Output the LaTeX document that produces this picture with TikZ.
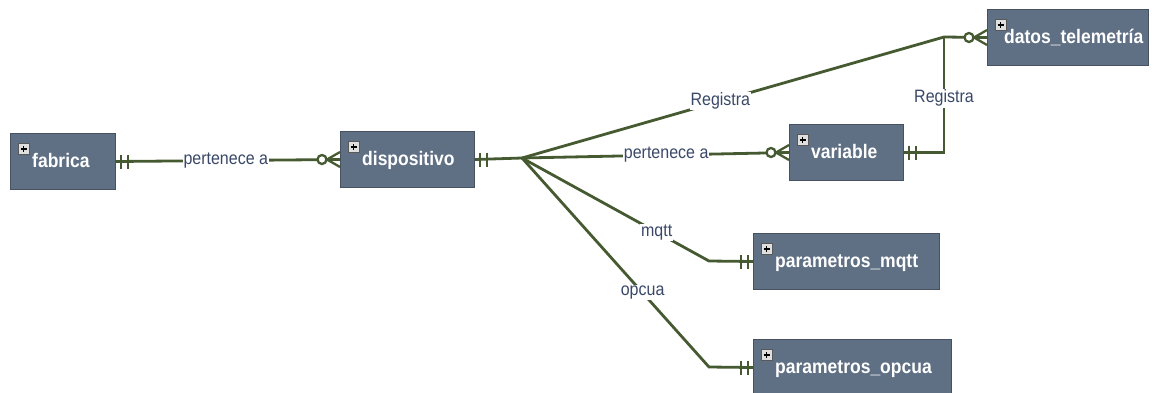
\documentclass[tikz,border=0pt]{standalone}
\usepackage{fontspec}
\setmainfont{Liberation Sans}
\definecolor{boxfill}{HTML}{5F6F84}
\definecolor{boxedge}{HTML}{47515F}
\definecolor{relgreen}{HTML}{465A32}
\definecolor{lblblue}{HTML}{3A4868}
\newcommand{\tallish}[1]{\scalebox{1}[1.12]{#1}}
\tikzset{
  bars/.pic={\draw[relgreen, line width=2.3pt] (5,-7) -- (5,7) (12,-7) -- (12,7);},
  crow/.pic={\draw[relgreen, line width=2.3pt] (-13,0) -- (0,-7.5) (-13,0) -- (0,0) (-13,0) -- (0,7.5);
             \draw[relgreen, line width=2.3pt, fill=white] (-18,0) circle (4.5);},
  plusicon/.pic={\draw[gray!70!black, fill=gray!25, line width=0.6pt] (0,0) rectangle (11,11);
                 \draw[black, line width=1.3pt] (2.5,5.5) -- (8.5,5.5) (5.5,2.5) -- (5.5,8.5);}
}
\begin{document}
\begin{tikzpicture}[x=1pt, y=-1pt,
  entity/.style={draw=boxedge, fill=boxfill, line width=1pt, inner sep=0pt,
                 anchor=north west, minimum height=56pt},
  title/.style={text=white, font=\fontsize{17.5}{20}\selectfont\bfseries,
                anchor=base west, inner sep=0pt},
  rel/.style={draw=relgreen, line width=2.8pt},
  lbl/.style={fill=white, text=lblblue, font=\fontsize{16}{18}\selectfont, inner sep=1pt}
]
\useasboundingbox (0,0) rectangle (1157,392);
\clip (0,0) rectangle (1157,392);

% entity boxes
\node[entity, minimum width=105pt] (fab) at (10,133) {};
\node[entity, minimum width=134pt] (dis) at (340,131) {};
\node[entity, minimum width=161pt] (dat) at (987,9) {};
\node[entity, minimum width=114pt] (var) at (789,124) {};
\node[entity, minimum width=186pt] (pm) at (753,233) {};
\node[entity, minimum width=198pt] (po) at (753,339) {};

% expand icons and titles
\foreach \b/\dx/\t in {fab/22/fabrica, dis/22/dispositivo, dat/17/datos\_telemetría,
                       var/22/variable, pm/22/parametros\_mqtt, po/22/parametros\_opcua}{
  \pic at ([shift={(8,-18)}]\b.west) {plusicon};
  \node[title] (\b-t) at ([shift={(\dx,6)}]\b.west) {\tallish{\t}};
}

% relationship lines
\coordinate (hub) at (522,158);
\coordinate (jn) at (944,37);
\coordinate (mk) at (709,261);
\coordinate (ok) at (709,367);

\draw[rel] (fab.east) -- node[lbl, pos=0.49] (l1) {\tallish{pertenece a}} (dis.west);
\draw[rel] (dis.east) -- (hub);
\draw[rel] (hub) -- node[lbl, pos=0.47] (l2) {\tallish{Registra}} (jn) -- (dat.west);
\draw[rel] (hub) -- node[lbl, pos=0.54] (l3) {\tallish{pertenece a}} (var.west);
\draw[rel] (hub) -- node[lbl, pos=0.72] (l4) {\tallish{mqtt}} (mk) -- (pm.west);
\draw[rel] (hub) -- node[lbl, pos=0.645] (l5) {\tallish{opcua}} (ok) -- (po.west);
\draw[rel] (var.east) -- (var.east -| jn) -- node[lbl, pos=0.47] (l6) {\tallish{Registra}} (jn);

% cardinality marks
\pic at (fab.east) {bars};
\pic at (dis.east) {bars};
\pic at (var.east) {bars};
\pic[xscale=-1] at (pm.west) {bars};
\pic[xscale=-1] at (po.west) {bars};
\pic at (dis.west) {crow};
\pic at (var.west) {crow};
\pic at (dat.west) {crow};
\end{tikzpicture}
\end{document}
